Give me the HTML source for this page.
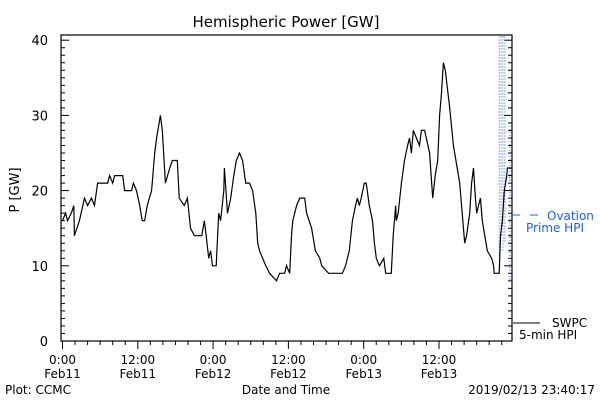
<!DOCTYPE html>
<html><head><meta charset="utf-8"><style>
body{margin:0;background:#fff;}
svg{display:block;font-family:"DejaVu Sans","Liberation Sans",sans-serif;}
</style></head><body>
<svg width="600" height="400" viewBox="0 0 600 400" xmlns="http://www.w3.org/2000/svg">
<rect x="0" y="0" width="600" height="400" fill="#fff"/>
<text x="286" y="27" font-size="15" text-anchor="middle">Hemispheric Power [GW]</text>
<g id="axes"></g>
<g id="ovation"></g>
<path id="line" fill="none" stroke="#000" stroke-width="1.2"/>
<rect x="61" y="35" width="451" height="306" fill="none" stroke="#000" stroke-width="1.2"/>
<text x="19" y="190" font-size="13" text-anchor="middle" transform="rotate(-90 19 190)">P [GW]</text>
<text x="286" y="394" font-size="12" text-anchor="middle">Date and Time</text>
<text x="5" y="394" font-size="12">Plot: CCMC</text>
<text x="595" y="394" font-size="12" text-anchor="end">2019/02/13 23:40:17</text>
<line x1="513" y1="215" x2="520" y2="215" stroke="#1f5fe0"/>
<line x1="530" y1="215" x2="538" y2="215" stroke="#1f5fe0"/>
<text x="547" y="220" font-size="12" fill="#1f5fe0">Ovation</text>
<text x="526" y="232" font-size="12" fill="#1f5fe0">Prime HPI</text>
<line x1="513" y1="323" x2="540" y2="323" stroke="#000"/>
<text x="552" y="327" font-size="12">SWPC</text>
<text x="519" y="339" font-size="12">5-min HPI</text>
</svg>
<script>
const hours=[0,0.5,0.8,1.4,1.8,1.9,2.7,3.5,4.0,4.6,5.1,5.6,7.2,7.5,8.0,8.3,9.6,9.9,11.0,11.3,11.8,12.3,12.7,13.1,13.5,14.2,14.7,15.0,15.6,15.9,16.4,17.1,17.5,18.3,18.6,19.4,19.9,20.4,21.0,22.2,22.6,22.9,23.3,23.6,23.9,24.5,24.9,25.2,25.7,25.8,26.3,26.8,27.3,27.7,28.2,28.7,29.2,29.8,30.3,30.8,31.1,31.4,31.9,32.4,33.0,34.1,34.6,35.4,35.7,36.2,36.5,36.7,37.3,37.8,38.6,38.9,39.7,40.3,41.0,41.3,42.4,44.6,45.1,45.7,46.2,46.7,47.0,47.3,47.6,48.1,48.4,48.9,49.4,49.7,50.0,50.5,51.2,51.5,52.4,52.7,53.1,53.2,53.5,54.0,54.5,55.0,55.3,55.6,55.9,56.4,56.9,57.2,57.7,58.5,59.0,59.4,59.8,60.1,60.4,60.7,61.0,61.7,62.3,62.9,63.3,63.7,64.1,64.4,64.9,65.2,65.5,65.8,66.0,66.3,66.6,66.9,67.3,67.7,68.4,68.7,68.8,69.6,69.8,70.1,70.4,70.8,70.9,71.6];
const power=[16,17,16,17,18,14,16,19,18,19,18,21,21,22,21,22,22,20,20,21,20,18,16,16,18,20,25,27,30,28,21,23,24,24,19,18,19,15,14,14,16,14,11,12,10,10,17,16,20,23,17,19,22,24,25,24,21,21,20,17,13,12,11,10,9,8,9,9,10,9,14,16,18,19,19,17,15,12,11,10,9,9,10,12,16,18,19,18,19,21,21,18,16,13,11,10,11,9,9,14,18,16,17,21,24,26,27,25,28,27,26,28,28,25,19,22,24,30,33,37,36,31,26,23,21,17,13,14,17,21,23,19,17,18,19,16,14,12,11,10,9,9,14,16,20,22,23,23];
const ovationHours=[69.6,69.9,70.2,70.5,71.3];
const ovationTop=[40.5,40.5,40.5,40.5,29];
const ovationBottom=[11,14,12,13,8];
const yTicks=[0,10,20,30,40];
const xTickHours=[0,12,24,36,48,60];
const xTickLabels=[["0:00","Feb11"],["12:00","Feb11"],["0:00","Feb12"],["12:00","Feb12"],["0:00","Feb13"],["12:00","Feb13"]];
const NS="http://www.w3.org/2000/svg";
function X(h){return 62.5+h*6.275;}
function Y(v){return 341-v*7.52;}
const axes=document.getElementById('axes');
function mk(tag,attrs,parent){const e=document.createElementNS(NS,tag);for(const k in attrs)e.setAttribute(k,attrs[k]);parent.appendChild(e);return e;}
for(let v=0;v<=40;v++){
  const major=yTicks.includes(v);
  const t=mk('line',{x1:61,x2:61+(major?8:4),y1:Y(v),y2:Y(v),stroke:'#000'},axes);
  
  
  const t2=mk('line',{x1:512,x2:512-(major?8:4),y1:Y(v),y2:Y(v),stroke:'#000'},axes);
  
  
}
yTicks.forEach(v=>{
  const l=mk('text',{x:48,y:Y(v)+5,'font-size':13,'text-anchor':'end'},axes);
  l.textContent=v;
  
  
});
for(let h=0;h<=72;h+=2){
  if(X(h)>512)break;
  const major=h%12===0;
  const t=mk('line',{x1:X(h),x2:X(h),y1:341,y2:341+(major?8:4),stroke:'#000'},axes);
  
  
}
xTickHours.forEach((h,i)=>{
  const a=mk('text',{x:X(h),y:364,'font-size':12,'text-anchor':'middle'},axes);
  a.textContent=xTickLabels[i][0];
  
  
  const b=mk('text',{x:X(h),y:378,'font-size':12,'text-anchor':'middle'},axes);
  b.textContent=xTickLabels[i][1];
  
  
});
const ov=document.getElementById('ovation');
ovationHours.forEach((h,i)=>{
  const l=mk('line',{x1:X(h),x2:X(h),y1:Math.max(35,Y(ovationTop[i])),y2:Y(ovationBottom[i]),stroke:'#1f5fe0','stroke-width':1,'stroke-dasharray':'1,2'},ov);
  
  
});
let d='';
hours.forEach((h,i)=>{d+=(i?'L':'M')+X(h).toFixed(1)+','+Y(power[i]).toFixed(1);});
document.getElementById('line').setAttribute('d',d);
</script>
</body></html>
